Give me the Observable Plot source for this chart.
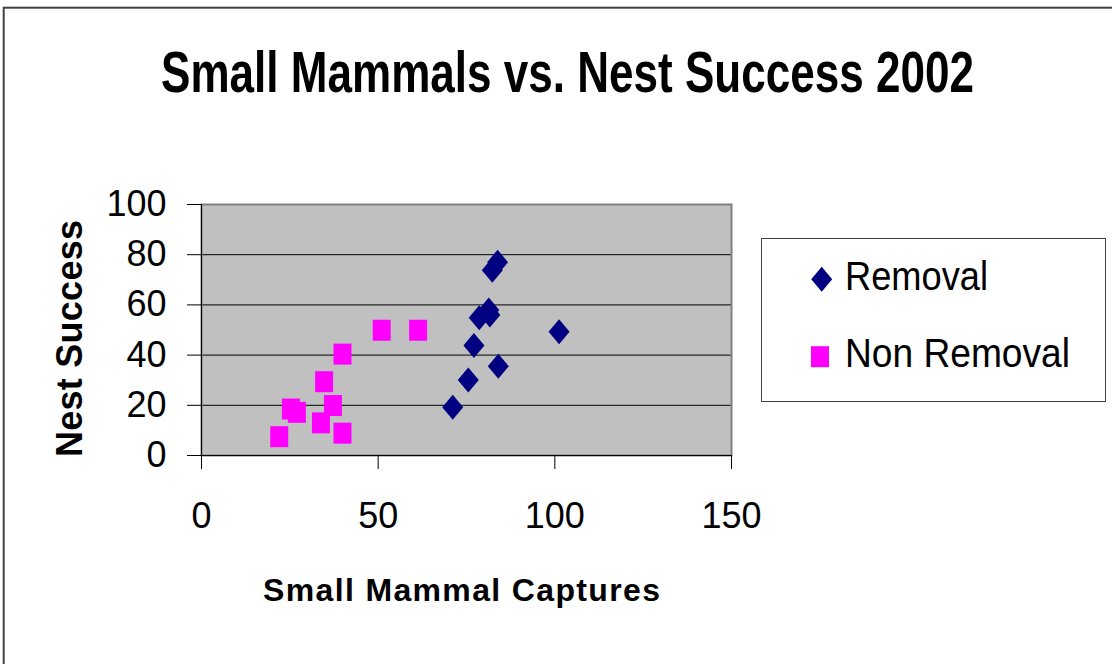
<!DOCTYPE html>
<html>
<head>
<meta charset="utf-8">
<script src="https://cdn.jsdelivr.net/npm/d3@7"></script>
<script src="https://cdn.jsdelivr.net/npm/@observablehq/plot@0.6"></script>
<style>
  html, body { margin: 0; padding: 0; background: #fff; }
  #wrap { position: relative; width: 1112px; height: 664px; overflow: hidden; font-family: "Liberation Sans", Arial, sans-serif; }
  #wrap > svg { position: absolute; left: 0; top: 0; }
</style>
</head>
<body>
<div id="wrap"></div>
<script>
// ---- data ----
const titleText = "Small Mammals vs. Nest Success 2002";
const xLabel = "Small Mammal Captures";
const yLabel = "Nest Success";
const seriesNames = ["Removal", "Non Removal"];
const seriesColors = ["#000080", "#FF00FF"];

const removalX = [71.1, 75.5, 77.1, 84.0, 101.2, 78.6, 81.3, 81.6, 82.3, 83.8];
const removalY = [19.2, 30.1, 43.8, 35.6, 49.3, 54.9, 58.0, 56.0, 73.8, 77.0];
const nonRemovalX = [22.0, 25.3, 27.0, 33.8, 34.7, 37.2, 39.9, 39.9, 51.0, 61.3];
const nonRemovalY = [7.5, 18.5, 17.2, 13.0, 29.4, 19.9, 8.9, 40.4, 49.9, 49.9];

const xTicks = [0, 50, 100, 150];
const yTicks = [0, 20, 40, 60, 80, 100];

// ---- build table ----
const points = [
  ...removalX.map((x, i) => ({x, y: removalY[i], series: seriesNames[0]})),
  ...nonRemovalX.map((x, i) => ({x, y: nonRemovalY[i], series: seriesNames[1]}))
];

// custom symbols (Excel-style tall diamond and square)
const diamondSym = { draw(ctx) { const w = 10.5, h = 12.5; ctx.moveTo(0, -h); ctx.lineTo(w, 0); ctx.lineTo(0, h); ctx.lineTo(-w, 0); ctx.closePath(); } };
const squareSym = { draw(ctx) { const w = 9, h = 10.5; ctx.moveTo(-w, -h); ctx.lineTo(w, -h); ctx.lineTo(w, h); ctx.lineTo(-w, h); ctx.closePath(); } };

const chart = Plot.plot({
  width: 1112,
  height: 664,
  marginLeft: 201,
  marginRight: 381,
  marginTop: 204,
  marginBottom: 209,
  style: { fontFamily: "'Liberation Sans', Arial, sans-serif", fontSize: "36px", background: "transparent", color: "#000" },
  x: { domain: [0, 150] },
  y: { domain: [0, 100] },
  marks: [
    Plot.frame({ fill: "#C0C0C0" }),
    Plot.gridY({ ticks: yTicks.filter(t => t > 0 && t < 100), stroke: "#000", strokeOpacity: 1, strokeWidth: 1 }),
    Plot.frame({ stroke: "#808080", strokeWidth: 2 }),
    Plot.ruleY([0], { stroke: "#000", strokeWidth: 1 }),
    Plot.ruleX([0], { stroke: "#000", strokeWidth: 1 }),
    Plot.axisX({ ticks: xTicks, tickSize: 14, tickPadding: 33, label: null, fontSize: 36, stroke: "#000" }),
    Plot.axisY({ ticks: yTicks, tickSize: 14, tickPadding: 21, label: null, fontSize: 36, stroke: "#000" }),
    Plot.dot(points.filter(d => d.series === seriesNames[0]), { x: "x", y: "y", fill: seriesColors[0], stroke: "none", symbol: diamondSym }),
    Plot.dot(points.filter(d => d.series === seriesNames[1]), { x: "x", y: "y", fill: seriesColors[1], stroke: "none", symbol: squareSym })
  ]
});

const wrap = document.getElementById("wrap");
wrap.appendChild(chart);

// ---- overlay: outer border, title, axis labels, legend ----
const ov = d3.select(wrap).append("svg")
  .attr("width", 1112).attr("height", 664)
  .style("font-family", "'Liberation Sans', Arial, sans-serif");

ov.append("rect").attr("x", 3.7).attr("y", 7.7).attr("width", 1300).attr("height", 800)
  .attr("fill", "none").attr("stroke", "#404040").attr("stroke-width", 2);

ov.append("text").text(titleText)
  .attr("transform", "translate(161,92) scale(1,1.27)")
  .attr("x", 0).attr("y", 0)
  .attr("font-size", 45).attr("font-weight", "bold")
  .attr("textLength", 813).attr("lengthAdjust", "spacingAndGlyphs");

ov.append("text").text(xLabel)
  .attr("x", 263).attr("y", 601)
  .attr("font-size", 32).attr("font-weight", "bold")
  .attr("textLength", 397).attr("lengthAdjust", "spacing");

ov.append("text").text(yLabel)
  .attr("transform", "translate(82,457) rotate(-90)")
  .attr("x", 0).attr("y", 0)
  .attr("font-size", 36).attr("font-weight", "bold")
  .attr("textLength", 237).attr("lengthAdjust", "spacing");

// legend
ov.append("rect").attr("x", 761.5).attr("y", 238.5).attr("width", 344).attr("height", 163)
  .attr("fill", "#fff").attr("stroke", "#404040").attr("stroke-width", 1);

const legendRows = [
  { name: seriesNames[0], color: seriesColors[0], sym: diamondSym, cx: 821.7, cy: 279.3, base: 290, len: 143 },
  { name: seriesNames[1], color: seriesColors[1], sym: squareSym, cx: 820, cy: 356.7, base: 367, len: 225 }
];
legendRows.forEach(r => {
  const p = d3.path(); r.sym.draw(p);
  ov.append("path").attr("d", p.toString()).attr("transform", `translate(${r.cx},${r.cy})`).attr("fill", r.color);
  ov.append("text").text(r.name).attr("x", 845).attr("y", r.base)
    .attr("font-size", 41).attr("textLength", r.len).attr("lengthAdjust", "spacingAndGlyphs");
});
</script>
</body>
</html>
